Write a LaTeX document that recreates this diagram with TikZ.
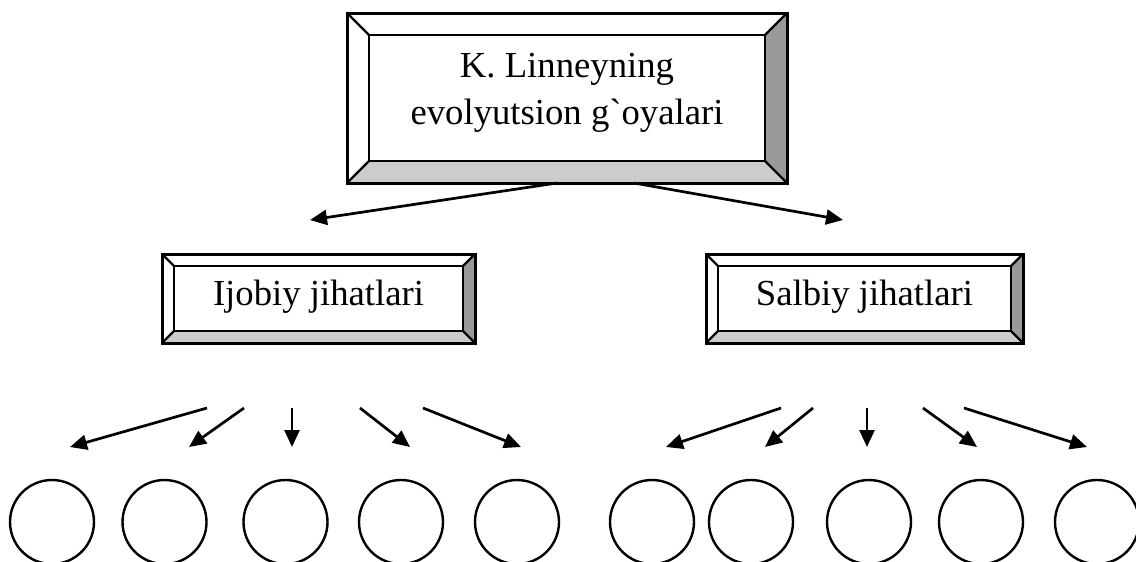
\documentclass[tikz,border=0pt]{standalone}
\usepackage{fontspec}
\newfontfamily\tnr{Liberation Serif}
\usetikzlibrary{arrows.meta,calc}
\definecolor{bevlight}{HTML}{CCCCCC}
\definecolor{bevdark}{HTML}{999999}
\tikzset{
  bevline/.style={line width=2.2pt, line join=miter},
  bevouter/.style={line width=3pt, line join=miter},
  txt/.style={font=\tnr\fontsize{36.7}{47}\selectfont, align=center, inner sep=0pt},
  arr/.style={line width=2.7pt, -{Triangle[length=17pt,width=15pt]}},
  circ/.style={draw, line width=2.4pt, circle, minimum size=84pt, inner sep=0pt}
}
% #1 x1, #2 y1, #3 x2, #4 y2, #5 bevel
\newcommand\bevelframe[5]{%
  \fill[white] (#1,#2) -- (#3,#2) -- (#3-#5,#2+#5) -- (#1+#5,#2+#5) -- (#1+#5,#4-#5) -- (#1,#4) -- cycle;
  \fill[bevdark] (#3,#2) -- (#3,#4) -- (#3-#5,#4-#5) -- (#3-#5,#2+#5) -- cycle;
  \fill[bevlight] (#1,#4) -- (#3,#4) -- (#3-#5,#4-#5) -- (#1+#5,#4-#5) -- cycle;
  \draw[bevline] (#1+#5,#2+#5) rectangle (#3-#5,#4-#5);
  \draw[bevline] (#1,#2) -- (#1+#5,#2+#5) (#3,#2) -- (#3-#5,#2+#5)
                 (#1,#4) -- (#1+#5,#4-#5) (#3,#4) -- (#3-#5,#4-#5);
  \draw[bevouter] (#1,#2) rectangle (#3,#4);
}
\begin{document}
\begin{tikzpicture}[x=1pt,y=-1pt]
\useasboundingbox (0,0) rectangle (1136,562);

\bevelframe{347}{13}{787}{183}{22}
\node[txt] (top) at (567,93) {K. Linneyning\\evolyutsion g`oyalari};

\bevelframe{162}{254}{475}{343}{12}
\node[txt, anchor=base] (ijobiy) at (318.5,305) {Ijobiy jihatlari};

\bevelframe{706}{254}{1023}{343}{12}
\node[txt, anchor=base] (salbiy) at (864.5,305) {Salbiy jihatlari};

% top arrows
\coordinate (ts1) at (557,183);
\coordinate (te1) at (310,220);
\coordinate (ts2) at (634,183);
\coordinate (te2) at (843,220);
\draw[arr] (ts1) -- (te1);
\draw[arr] (ts2) -- (te2);

% circles
\foreach \i/\x in {1/52,2/164.5,3/285.5,4/401,5/517,6/652,7/751,8/869,9/981,10/1097}{
  \node[circ] (c\i) at (\x,522) {};
}

% lower arrows
\foreach \i/\sx/\ex in {1/207/70, 2/244/189, 3/292/292, 4/360/410, 5/423/521,
                         6/781/666, 7/813/765, 8/867/867, 9/923/977, 10/964/1087}{
  \coordinate (s\i) at (\sx,408);
  \coordinate (e\i) at (\ex,447);
  \draw[arr] (s\i) -- (e\i);
}
\end{tikzpicture}
\end{document}
